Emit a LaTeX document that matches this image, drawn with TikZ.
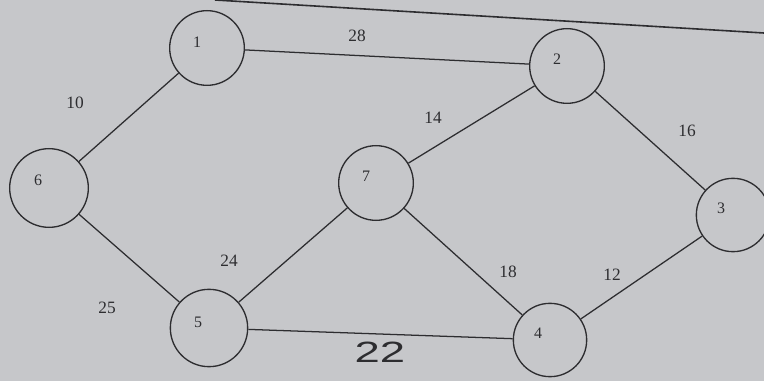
\documentclass[tikz,border=0pt]{standalone}
\usepackage{fontspec}
\setmainfont{Liberation Serif}
\newfontfamily\bigsans{Liberation Sans}
\usepackage{graphicx}
\definecolor{paper}{RGB}{198,199,202}
\definecolor{ink}{RGB}{45,45,48}
\begin{document}
\begin{tikzpicture}[x=0.75pt,y=-0.75pt,
  vert/.style={circle,draw=ink,line width=1pt,minimum size=56pt,inner sep=0pt},
  vlab/.style={text=ink,font=\fontsize{12}{13}\selectfont,inner sep=0pt},
  wlab/.style={text=ink,font=\fontsize{13}{14}\selectfont,inner sep=0pt},
  edge/.style={draw=ink,line width=0.95pt}]
\fill[paper] (0,0) rectangle (764,381);
\useasboundingbox (0,0) rectangle (764,381);
% top paper line
\coordinate (tl) at (215,0);
\coordinate (tr) at (764,33);
\draw[ink,line width=1.2pt] (tl) -- (tr);
% vertices
\node[vert] (n1) at (207,48) {};
\node[vert] (n2) at (567,66) {};
\node[vert,minimum size=55pt] (n3) at (733,215) {};
\node[vert,minimum size=55pt] (n4) at (550,340) {};
\node[vert,minimum size=58pt] (n5) at (209,328) {};
\node[vert,minimum size=59pt] (n6) at (49,188) {};
\node[vert] (n7) at (376,183) {};
% vertex labels
\node[vlab] (t1) at (197,42) {1};
\node[vlab] (t2) at (557,59) {2};
\node[vlab] (t3) at (721,208) {3};
\node[vlab] (t4) at (538,333) {4};
\node[vlab] (t5) at (198,322) {5};
\node[vlab] (t6) at (38,180) {6};
\node[vlab] (t7) at (366,176) {7};
% edges
\draw[edge] (n1) -- (n2);
\draw[edge] (n6) -- (n1);
\draw[edge] (n7) -- (n2);
\draw[edge] (n2) -- (n3);
\draw[edge] (n6) -- (n5);
\draw[edge] (n5) -- (n7);
\draw[edge] (n7) -- (n4);
\draw[edge] (n4) -- (n3);
\draw[edge] (n5) -- (n4);
% weights
\node[wlab] (w12) at (357,36) {28};
\node[wlab] (w61) at (75,103) {10};
\node[wlab] (w72) at (433,118) {14};
\node[wlab] (w23) at (687,131) {16};
\node[wlab] (w57) at (229,261) {24};
\node[wlab] (w65) at (107,308) {25};
\node[wlab] (w74) at (508,272) {18};
\node[wlab] (w43) at (612,275) {12};
\node[text=ink,inner sep=0pt] (w54) at (380,352) {\scalebox{1.55}[1]{\bigsans\fontsize{22}{24}\selectfont 22}};
\end{tikzpicture}
\end{document}
